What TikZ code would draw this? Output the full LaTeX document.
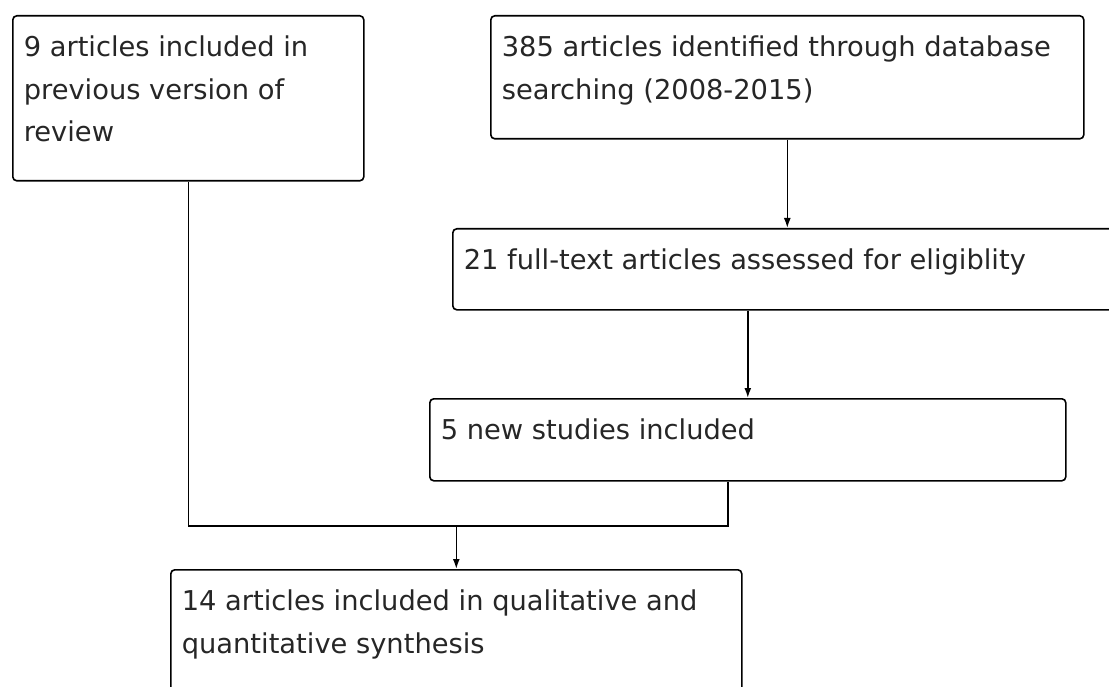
\documentclass[tikz,border=0pt]{standalone}
\usepackage{fontspec}
\setmainfont{DejaVu Sans}
\usetikzlibrary{arrows.meta}
\tikzset{>={Latex[length=10pt,width=7pt]}}
\tikzset{%
    flowbox/.style={%
        draw, rounded corners=4pt, anchor=north west, line width=1.6pt,
        inner xsep=11pt, inner ysep=11pt, text=black!85,
        font=\fontsize{27.3}{42.5}\selectfont
    },
    link/.style={line width=1.6pt}
}
\newcommand{\boxtext}[3]{\parbox[t][#2][t]{#1}{\raggedright\strut #3}}

\begin{document}
\begin{tikzpicture}[x=1pt,y=1pt]
    \useasboundingbox (0,0) rectangle (1109,-687);
    \clip (0,0) rectangle (1109,-687);
    \node[flowbox] (prev) at (12,-15) {\boxtext{329pt}{143pt}{9 articles included in\\ previous version of\\ review}};
    \node[flowbox] (ident) at (490,-15) {\boxtext{571pt}{101pt}{385 articles identified through database\\ searching (2008-2015)}};
    \node[flowbox] (full) at (452,-228) {\boxtext{656pt}{59pt}{21 full-text articles assessed for eligiblity}};
    \node[flowbox] (new) at (429,-398) {\boxtext{614pt}{60pt}{5 new studies included}};
    \node[flowbox] (syn) at (170,-569) {\boxtext{549pt}{128pt}{14 articles included in qualitative and\\ quantitative synthesis}};
    \coordinate (merge) at (syn.north |- 0,-526);
    \coordinate (newout) at ([xshift=-20pt]new.south);
    \draw[->,link] (ident.south) -- (ident.south |- full.north);
    \draw[->,link] (full.south -| new.north) -- (new.north);
    \draw[link] (prev.south) |- (merge) -| (newout);
    \draw[->,link] (merge) -- (syn.north);
\end{tikzpicture}
\end{document}
